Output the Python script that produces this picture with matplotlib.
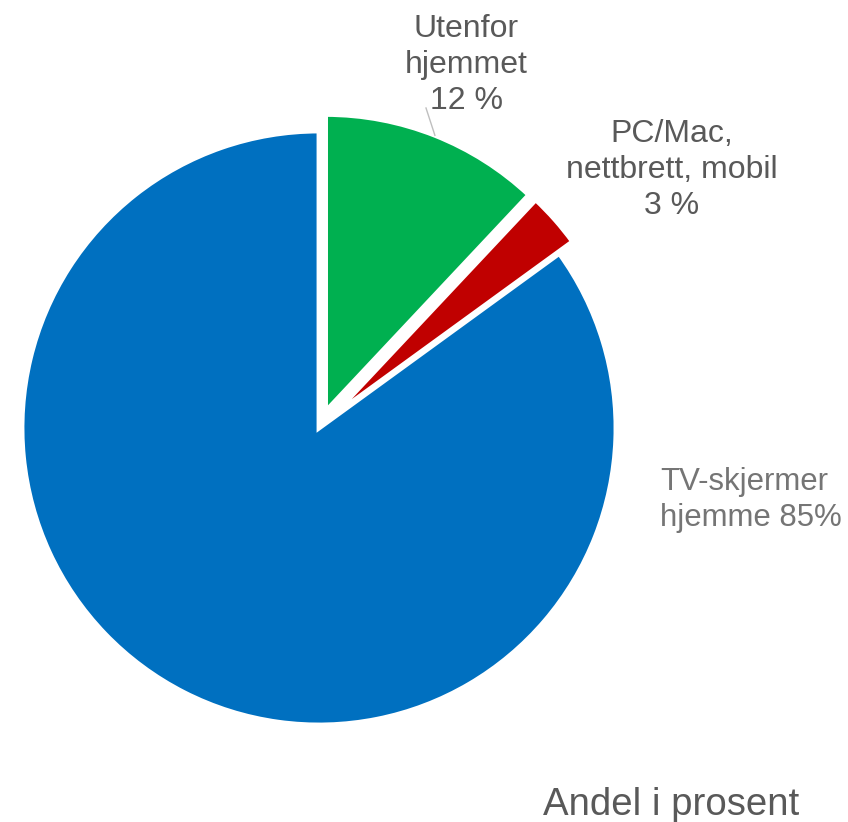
import numpy as np
import matplotlib.pyplot as plt

# data
kategorier = ['Utenfor\nhjemmet\n12 %', 'PC/Mac,\nnettbrett, mobil\n3 %', 'TV-skjermer\nhjemme 85%']
andel = [12, 3, 85]
farger = ['#00B050', '#C00000', '#0070C0']
utskyting = [0.06, 0.06, 0.0]

W, H = 848, 822
fig = plt.figure(figsize=(W / 100, H / 100), dpi=100)
ax = fig.add_axes([0, 0, 1, 1])

wedges, _ = ax.pie(andel, colors=farger, explode=utskyting, startangle=90,
                   counterclock=False, radius=1,
                   wedgeprops=dict(edgecolor='white', linewidth=3.5))

# pie centre / radius in pixels, axes scaled so that radius = 1
cx, cy, r = 319, 428, 297
ax.set_xlim(-cx / r, (W - cx) / r)
ax.set_ylim(-(H - cy) / r, cy / r)
ax.set_aspect('equal')
ax.axis('off')

plt.rcParams['font.family'] = ['Liberation Sans', 'DejaVu Sans']
grå = '#595959'


def px(x, y):
    return x / W, 1 - y / H


fig.text(*px(466, 65), kategorier[0], ha='center', va='center', fontsize=23,
         color=grå, linespacing=1.25)
fig.text(*px(672, 170), kategorier[1], ha='center', va='center', fontsize=23,
         color=grå, linespacing=1.25)
fig.text(*px(660, 500), kategorier[2], ha='left', va='center', fontsize=22.4,
         color='#757575', linespacing=1.27)
fig.text(*px(543, 815), 'Andel i prosent', ha='left', va='baseline', fontsize=27.6,
         color=grå)

# leader line from the green slice to its label
g = wedges[0]
mid = np.deg2rad((g.theta1 + g.theta2) / 2)
x0 = g.center[0] + np.cos(mid)
y0 = g.center[1] + np.sin(mid)
x1 = (426 - cx) / r
y1 = (cy - 108) / r
ax.plot([x0, x1], [y0, y1], color='#BFBFBF', linewidth=1, clip_on=False)

fig.savefig('out.png', dpi=100)
